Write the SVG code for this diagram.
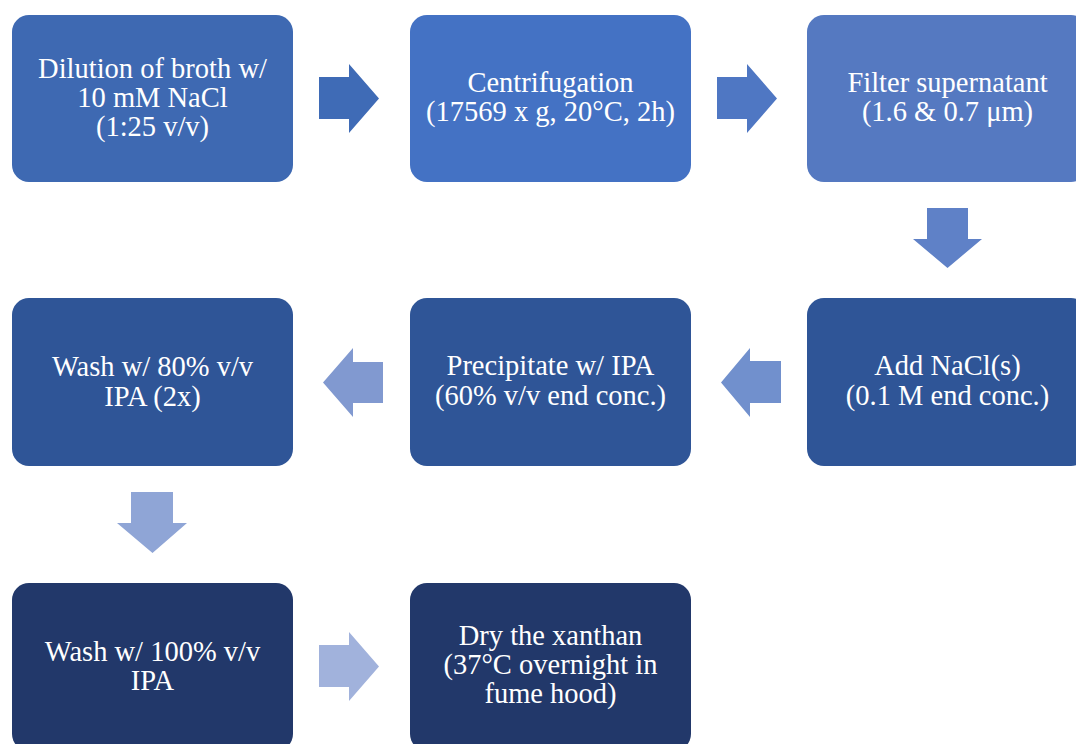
<svg xmlns="http://www.w3.org/2000/svg" width="1076" height="744" viewBox="0 0 1076 744">
<style>
.box{stroke:none}
.t{font-family:"Liberation Serif","Times New Roman",serif;font-size:28.5px;fill:#ffffff;text-anchor:middle}
</style>
<rect width="1076" height="744" fill="#ffffff"/>
<g id="connectors">
<polygon points="319,77 349,77 349,64 379,98.5 349,133 349,119 319,119" fill="#3F6BB6"/>
<polygon points="717,77 747,77 747,64 777,98.5 747,133 747,119 717,119" fill="#4F77C3"/>
<polygon points="927,208 968,208 968,239 982,239 947.5,268 913,239 927,239" fill="#5F81C7"/>
<polygon points="781,361 750,361 750,348 721,382.5 750,417 750,403 781,403" fill="#7190CD"/>
<polygon points="383,362 353,362 353,348 323,382.5 353,417 353,403 383,403" fill="#8199D0"/>
<polygon points="131,492 173,492 173,523 187,523 152.5,553 117,523 131,523" fill="#8FA5D6"/>
<polygon points="319,645 349,645 349,632 379,666.5 349,701 349,687 319,687" fill="#A1B2DC"/>
</g>
<g id="n1"><rect class="box" x="12" y="15" width="281" height="167" rx="17" fill="#3E69B2"/>
<text class="t" x="152.5" y="78">Dilution of broth w/</text><text class="t" x="152.5" y="107">10 mM NaCl</text><text class="t" x="152.5" y="136">(1:25 v/v)</text></g>
<g id="n2"><rect class="box" x="410" y="15" width="281" height="167" rx="17" fill="#4472C4"/>
<text class="t" x="550.5" y="92">Centrifugation</text><text class="t" x="550.5" y="121">(17569 x g, 20°C, 2h)</text></g>
<g id="n3"><rect class="box" x="807" y="15" width="281" height="167" rx="17" fill="#5579C1"/>
<text class="t" x="947.5" y="92">Filter supernatant</text><text class="t" x="947.5" y="121">(1.6 &amp; 0.7 μm)</text></g>
<g id="n4"><rect class="box" x="807" y="298" width="281" height="168" rx="17" fill="#2F5597"/>
<text class="t" x="947.5" y="375">Add NaCl(s)</text><text class="t" x="947.5" y="405">(0.1 M end conc.)</text></g>
<g id="n5"><rect class="box" x="410" y="298" width="281" height="168" rx="17" fill="#2F5597"/>
<text class="t" x="550.5" y="375">Precipitate w/ IPA</text><text class="t" x="550.5" y="405">(60% v/v end conc.)</text></g>
<g id="n6"><rect class="box" x="12" y="298" width="281" height="168" rx="17" fill="#2F5597"/>
<text class="t" x="152.5" y="376">Wash w/ 80% v/v</text><text class="t" x="152.5" y="406">IPA (2x)</text></g>
<g id="n7"><rect class="box" x="12" y="583" width="281" height="168" rx="17" fill="#22386A"/>
<text class="t" x="152.5" y="661">Wash w/ 100% v/v</text><text class="t" x="152.5" y="690">IPA</text></g>
<g id="n8"><rect class="box" x="410" y="583" width="281" height="168" rx="17" fill="#22386A"/>
<text class="t" x="550.5" y="645">Dry the xanthan</text><text class="t" x="550.5" y="674">(37°C overnight in</text><text class="t" x="550.5" y="703">fume hood)</text></g>
</svg>
